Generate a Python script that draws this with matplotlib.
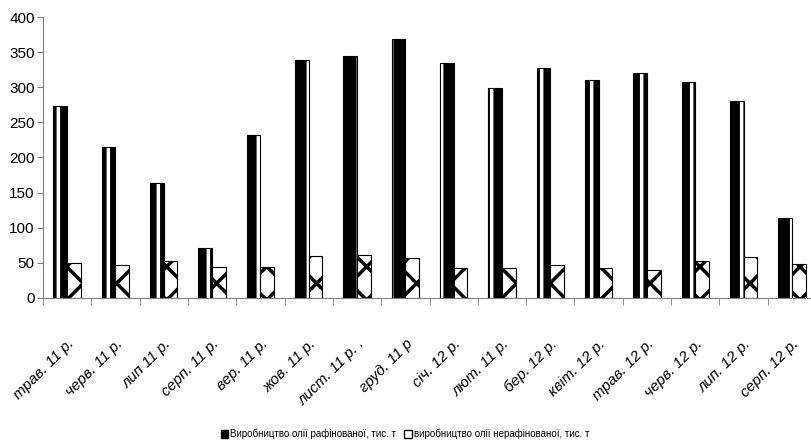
import numpy as np
import matplotlib
matplotlib.use('Agg')
import matplotlib.pyplot as plt
from matplotlib.patches import Patch

months = ['трав. 11 р.', 'черв. 11 р.', 'лип 11 р.', 'серп. 11 р.', 'вер. 11 р.',
          'жов. 11 р.', 'лист. 11 р. .', 'груд. 11 р', 'січ. 12 р.', 'лют. 11 р.',
          'бер. 12 р.', 'квіт. 12 р.', 'трав. 12 р.', 'черв. 12 р.', 'лип. 12 р.',
          'серп. 12 р.']
refined = [274, 215, 164, 71, 232, 339, 345, 369, 335, 299, 327, 311, 320, 308, 280, 113]
unrefined = [50, 46, 53, 44, 44, 59, 61, 57, 42, 42, 46, 42, 40, 52, 58, 48]
legend_labels = ['Виробництво олії рафінованої, тис. т', 'виробництво олії нерафінованої, тис. т']

plt.rcParams['font.family'] = ['Liberation Sans', 'DejaVu Sans']
plt.rcParams['hatch.linewidth'] = 2.5

fig = plt.figure(figsize=(8.11, 4.48), dpi=100)
ax = fig.add_axes([43/811, 150.3/448, 773/811, 280.4/448])

x = np.arange(len(months))
w = 0.283

# темні стовпці з білим штрихуванням
ax.bar(x - w/2, refined, w, color='black', edgecolor='white', hatch='|', linewidth=0)
ax.bar(x - w/2, refined, w, fill=False, edgecolor='black', linewidth=0.8)
# світлі стовпці з чорним візерунком
ax.bar(x + w/2, unrefined, w, color='white', edgecolor='black', hatch='x', linewidth=0.8)

ax.set_xlim(-0.5, len(months) - 0.5)
ax.set_ylim(0, 400)
ax.set_yticks(range(0, 401, 50))
ax.tick_params(axis='y', labelsize=11, length=4, color='#808080', pad=2)

ax.set_xticks(x)
ax.set_xticklabels(months, rotation=45, ha='right', va='top', rotation_mode='anchor',
                   style='italic', fontsize=11)
ax.tick_params(axis='x', which='major', length=0, pad=28)
ax.set_xticks(np.arange(len(months) + 1) - 0.5, minor=True)
ax.tick_params(axis='x', which='minor', length=5, color='#808080')

for s in ['top', 'right']:
    ax.spines[s].set_visible(False)
ax.spines['left'].set_color('#808080')
ax.spines['bottom'].set_color('#808080')

handles = [Patch(facecolor='black', edgecolor='black'),
           Patch(facecolor='white', edgecolor='black')]
fig.legend(handles, legend_labels, loc='center', bbox_to_anchor=(405/811, 1 - 434/448),
           ncol=2, frameon=False, fontsize=7, handlelength=0.8, handleheight=0.8,
           handletextpad=0.2, columnspacing=0.8)

fig.savefig('out.png', dpi=100)
